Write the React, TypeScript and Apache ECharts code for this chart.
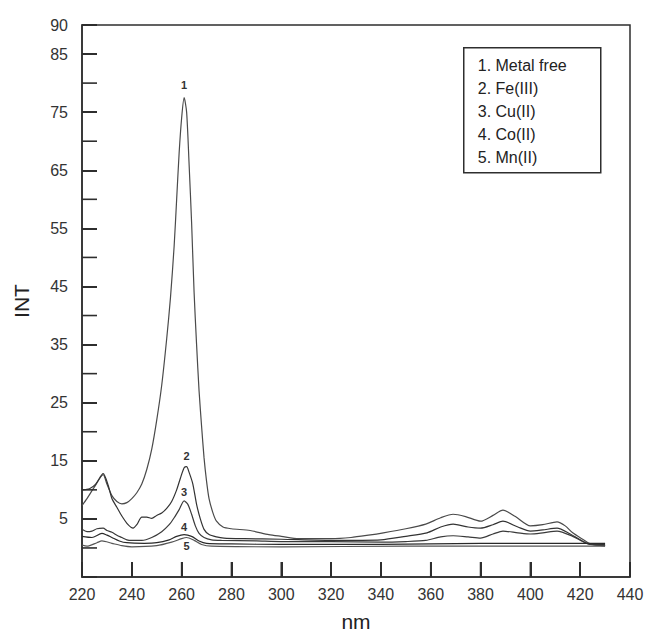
import React, { useEffect, useRef } from "react";
import * as echarts from "echarts";

const seriesNames = ["1. Metal free", "2. Fe(III)", "3. Cu(II)", "4. Co(II)", "5. Mn(II)"];
const peakLabels = ["1", "2", "3", "4", "5"];

// wavelength (nm), intensity pairs
const metalFree: [number, number][] = [
  [220, 7.3], [222, 8.5], [225, 10.5], [228.5, 12.6], [230, 11], [232, 9], [234, 8], [236, 7.6],
  [238, 7.8], [240, 8.5], [242, 9.5], [244, 11], [246, 13.5], [248, 17], [250, 22], [252, 28],
  [254, 36], [255.5, 43], [257, 52], [258, 60], [259, 68], [260, 74], [261, 77.5], [262, 75],
  [263, 66], [264, 56], [265, 44], [266, 35], [267, 27], [268, 21], [269, 15.5], [270, 11.5],
  [271, 8.5], [272.6, 6], [274, 4.6], [276.6, 3.6], [280, 3.3], [287.5, 3.0], [295, 2.3],
  [300, 2.0], [307, 1.6], [315, 1.6], [320, 1.6], [328, 1.8], [335, 2.2], [341, 2.6], [350, 3.3],
  [358, 4.1], [364, 5.2], [369, 5.8], [374, 5.4], [380, 4.6], [385, 5.6], [389, 6.5], [394, 5.4],
  [400, 3.8], [405, 4.0], [410.7, 4.5], [414, 3.8], [417, 2.6], [421, 1.5], [424, 0.7], [430, 0.35],
];
const feIII: [number, number][] = [
  [220, 10], [223, 10.2], [225.5, 11], [228.5, 12.8], [230.5, 10.8], [232, 8.5], [234, 7],
  [236, 5.5], [238.5, 4], [240.5, 3.4], [242, 4], [244, 5.3], [246, 5.3], [248, 5.1], [250, 5.6],
  [252, 6], [254, 6.8], [256, 8], [258, 10], [259.5, 12], [261, 13.8], [262, 14], [263, 13],
  [264.5, 11], [266, 7.5], [267.5, 5], [269, 3.2], [271, 2.3], [274, 1.9], [277, 1.7], [285, 1.6],
  [300, 1.5], [320, 1.3], [340, 1.4], [350, 2.0], [358.5, 2.6], [364, 3.6], [369, 4.1], [375, 3.6],
  [380, 3.4], [385, 4.0], [389, 4.6], [395, 3.6], [400, 2.9], [405, 3.1], [410.7, 3.4], [416, 2.4],
  [420, 1.4], [424, 0.6], [430, 0.6],
];
const cuII: [number, number][] = [
  [220, 3.2], [222, 2.8], [224, 2.9], [226, 3.3], [228.5, 3.4], [230, 3], [232, 2.7], [234, 2.2],
  [236, 1.8], [238, 1.4], [240, 1.3], [244, 1.3], [248, 1.8], [252, 2.8], [255, 4], [257, 5.2],
  [259, 6.6], [261, 8.1], [262.5, 7.5], [264, 5.8], [265.5, 3.8], [267, 2.5], [269, 1.8],
  [272, 1.4], [276, 1.3], [290, 1.2], [300, 1.1], [320, 1.1], [340, 1.0], [350, 1.1], [358, 1.3],
  [364, 1.9], [369, 2.1], [375, 1.9], [380, 1.7], [385, 2.4], [389, 2.9], [395, 2.6], [400, 2.4],
  [405, 2.6], [410.7, 2.9], [417, 2.0], [421, 1.1], [424, 0.6], [430, 0.4],
];
const coII: [number, number][] = [
  [220, 2], [224, 1.8], [228, 2.5], [230, 2.2], [232, 1.8], [235, 1.2], [238, 0.9], [245, 0.8],
  [250, 0.9], [255, 1.4], [258, 2], [261, 2.3], [264, 2], [267, 1.2], [270, 0.8], [280, 0.7],
  [300, 0.6], [340, 0.6], [380, 0.8], [400, 0.8], [430, 0.8],
];
const mnII: [number, number][] = [
  [220, 0.5], [222, 0.3], [226, 0.9], [228, 1.2], [232, 0.8], [236, 0.4], [240, 0.2], [250, 0.4],
  [256, 1.0], [260, 1.6], [262, 1.8], [265, 1.3], [268, 0.6], [272, 0.3], [300, 0.2], [350, 0.3],
  [400, 0.3], [430, 0.3],
];
const peakWavelengths = [261, 262, 261, 261, 262];

const xTickValues = [240, 260, 280, 300, 320, 340, 360, 380, 400, 420];
const yTickValues = [0, 10, 20, 30, 40, 50, 60, 70, 80];

const X_MIN = 220;
const X_MAX = 440;
const Y_MIN = -5;
const Y_MAX = 90;
const X_TITLE = "nm";
const Y_TITLE = "INT";

const FONT = "'Liberation Sans', Arial, Helvetica, sans-serif";
const INK = "#2e2e2e";
const TICK_LEN = 15;

export default function App() {
  const ref = useRef<HTMLDivElement>(null);
  useEffect(() => {
    if (!ref.current) return;
    const chart = echarts.init(ref.current, null, { renderer: "svg" });
    const all = [metalFree, feIII, cuII, coII, mnII];
    const lineColors = ["#4a4a4a", "#333333", "#3a3a3a", "#2a2a2a", "#555555"];
    const labelPos = ["top", "top", "top", "top", "bottom"];
    const labelDist = [7, 5, 3, 2, 3];
    const series: any[] = all.map((d, i) => {
      const peak = d.find(([x]) => x === peakWavelengths[i]) as [number, number];
      return {
        name: seriesNames[i],
        type: "line",
        smooth: 0.25,
        symbol: "none",
        lineStyle: { color: lineColors[i], width: 1.2 },
        itemStyle: { color: lineColors[i] },
        data: d,
        markPoint: {
          symbol: "circle",
          symbolSize: 1,
          silent: true,
          itemStyle: { color: "rgba(0,0,0,0)" },
          label: {
            show: true,
            formatter: peakLabels[i],
            position: labelPos[i],
            distance: labelDist[i],
            fontSize: 11,
            fontWeight: "bold",
            color: "#333",
            fontFamily: FONT,
          },
          data: [{ coord: peak }],
        },
      };
    });
    series.push({
      name: "yTicks",
      type: "custom",
      silent: true,
      clip: false,
      z: 10,
      data: yTickValues.map((v) => [X_MIN, v]),
      encode: { x: 0, y: 1 },
      renderItem: (_p: any, api: any) => {
        const pt = api.coord([api.value(0), api.value(1)]);
        return {
          type: "rect",
          shape: { x: pt[0], y: pt[1] - 0.8, width: TICK_LEN, height: 1.6 },
          style: { fill: INK },
        };
      },
    });
    series.push({
      name: "xTicks",
      type: "custom",
      silent: true,
      clip: false,
      z: 10,
      data: xTickValues.map((v) => [v, Y_MIN]),
      encode: { x: 0, y: 1 },
      renderItem: (_p: any, api: any) => {
        const pt = api.coord([api.value(0), api.value(1)]);
        return {
          type: "rect",
          shape: { x: pt[0] - 0.8, y: pt[1] - TICK_LEN, width: 1.6, height: TICK_LEN },
          style: { fill: INK },
        };
      },
    });
    chart.setOption({
      animation: false,
      grid: { left: 82, right: 18, top: 25, bottom: 56 },
      xAxis: {
        type: "value",
        min: X_MIN,
        max: X_MAX,
        interval: 20,
        axisLine: { show: true, onZero: false, lineStyle: { color: INK, width: 1.5 } },
        axisTick: { show: true, inside: true, length: TICK_LEN, lineStyle: { color: INK, width: 2 } },
        axisLabel: { margin: 9, fontSize: 16, color: "#333", fontFamily: FONT },
        splitLine: { show: false },
      },
      yAxis: {
        type: "value",
        min: Y_MIN,
        max: Y_MAX,
        interval: 10,
        axisLine: { show: true, lineStyle: { color: INK, width: 1.5 } },
        axisTick: { show: true, inside: true, length: TICK_LEN, lineStyle: { color: INK, width: 2 } },
        axisLabel: {
          margin: 14,
          fontSize: 16,
          color: "#333",
          fontFamily: FONT,
          formatter: (v: number) => (v < 0 ? "" : String(v)),
        },
        splitLine: { show: false },
      },
      series,
    });

    const tl = chart.convertToPixel({ gridIndex: 0 }, [X_MIN, Y_MAX]) as number[];
    const br = chart.convertToPixel({ gridIndex: 0 }, [X_MAX, Y_MIN]) as number[];
    const legendChildren: any[] = [
      {
        type: "rect",
        shape: { x: 0, y: 0, width: 137, height: 125 },
        style: { fill: "#ffffff", stroke: INK, lineWidth: 1.5 },
      },
      ...seriesNames.map((name, i) => ({
        type: "text",
        x: 14,
        y: 18 + i * 23,
        style: {
          text: name,
          fontSize: 16,
          fontFamily: FONT,
          fill: "#222",
          verticalAlign: "middle",
          align: "left",
        },
      })),
    ];
    chart.setOption({
      graphic: [
        {
          type: "rect",
          z: 1,
          silent: true,
          shape: { x: tl[0], y: tl[1], width: br[0] - tl[0], height: br[1] - tl[1] },
          style: { fill: "none", stroke: INK, lineWidth: 1.5 },
        },
        { type: "group", left: 463, top: 47, z: 20, children: legendChildren },
        {
          type: "text",
          x: (tl[0] + br[0]) / 2,
          y: br[1] + 44,
          style: {
            text: X_TITLE,
            fontSize: 21,
            fontFamily: FONT,
            fill: "#222",
            align: "center",
            verticalAlign: "middle",
          },
        },
        {
          type: "text",
          x: 21,
          y: (tl[1] + br[1]) / 2,
          rotation: Math.PI / 2,
          style: {
            text: Y_TITLE,
            fontSize: 21,
            fontFamily: FONT,
            fill: "#222",
            align: "center",
            verticalAlign: "middle",
          },
        },
      ],
    });
    return () => chart.dispose();
  }, []);
  return (
    <div
      ref={ref}
      style={{ position: "fixed", left: 0, top: 0, width: 648, height: 633, background: "#fff" }}
    />
  );
}
